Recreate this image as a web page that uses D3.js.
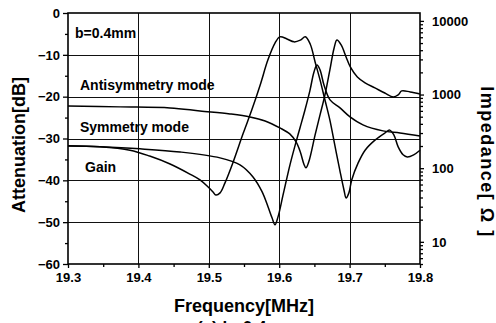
<!DOCTYPE html>
<html>
<head>
<meta charset="utf-8">
<script src="https://cdn.jsdelivr.net/npm/d3@7"></script>
<style>
  body { margin: 0; background: #fff; }
  svg { display: block; }
  text { font-family: "Liberation Sans", Arial, sans-serif; font-weight: bold; fill: #000; }
</style>
</head>
<body>
<svg id="chart" width="496" height="323"></svg>
<script>
// Axis tick values
const freqTicks = [19.3, 19.4, 19.5, 19.6, 19.7, 19.8];
const freqMinor = [19.35, 19.45, 19.55, 19.65, 19.75];
const dbTicks = [0, -10, -20, -30, -40, -50, -60];
const dbMinor = [-5, -15, -25, -35, -45, -55];
const ohmTicks = [10, 100, 1000, 10000];

// Filter gain [dB] vs frequency [MHz]
const gainFreq = [19.300, 19.345, 19.388, 19.416, 19.445, 19.473, 19.4875, 19.499, 19.506, 19.510,
  19.516, 19.523, 19.534, 19.549, 19.561, 19.573, 19.584, 19.594, 19.601, 19.611,
  19.621, 19.630, 19.637, 19.644, 19.651, 19.658, 19.665, 19.672, 19.679, 19.686,
  19.692, 19.695, 19.699, 19.703, 19.712, 19.722, 19.736, 19.750, 19.757, 19.763,
  19.769, 19.776, 19.782, 19.791, 19.800];
const gainDb = [-31.8, -32.0, -32.8, -34.2, -36.1, -38.5, -39.9, -41.6, -42.8, -43.5,
  -43.0, -40.6, -35.9, -28.7, -23.2, -17.2, -11.2, -7.2, -5.7, -6.2,
  -6.9, -6.5, -5.7, -7.4, -11.7, -16.0, -20.8, -25.6, -31.6, -37.5,
  -42.3, -44.2, -43.0, -39.9, -35.9, -32.8, -30.4, -28.7, -28.0, -29.2,
  -32.0, -33.9, -34.4, -33.9, -32.8];

// Antisymmetry mode impedance [ohm]
const antiFreq = [19.300, 19.374, 19.445, 19.4875, 19.530, 19.5585, 19.580, 19.601, 19.615, 19.624,
  19.630, 19.635, 19.638, 19.642, 19.651, 19.658, 19.665, 19.672, 19.678, 19.682,
  19.688, 19.695, 19.701, 19.711, 19.722, 19.736, 19.750, 19.762, 19.769, 19.774,
  19.786, 19.800];
const antiOhm = [700, 680, 658, 598, 545, 497, 438, 352, 292, 227,
  166, 114, 101, 122, 283, 529, 988, 2160, 4290, 5500,
  4710, 3240, 2370, 1730, 1440, 1230, 1050, 928, 988, 1120,
  1085, 1020];

// Symmetry mode impedance [ohm]
const symFreq = [19.300, 19.3455, 19.4023, 19.4591, 19.5159, 19.5443, 19.5628, 19.5756, 19.5841, 19.5898,
  19.5940, 19.5983, 19.6054, 19.6153, 19.6224, 19.6295, 19.6366, 19.6438, 19.6494, 19.6537,
  19.6580, 19.6636, 19.6722, 19.6864, 19.7006, 19.7190, 19.7474, 19.7716, 19.800];
const symOhm = [201, 195, 183, 166, 138, 111, 76, 48, 30, 21.2,
  17, 21.8, 43, 111, 201, 352, 618, 1150, 2030, 2520,
  2160, 1350, 845, 658, 497, 387, 321, 301, 274];

const svg = d3.select("#chart");
const L = 68, R = 420, T = 13, B = 264;

const x = d3.scaleLinear().domain([19.3, 19.8]).range([L, R]);
const yDb = d3.scaleLinear().domain([-60, 0]).range([B, T]);
const yOhm = d3.scaleLog().domain([5, 12800]).range([B, T]);

// Grid
const grid = svg.append("g").attr("stroke", "#111").attr("stroke-width", 1);
grid.selectAll("line.h").data(dbTicks.slice(1, -1)).join("line")
  .attr("x1", L).attr("x2", R)
  .attr("y1", d => Math.round(yDb(d)) + 0.5).attr("y2", d => Math.round(yDb(d)) + 0.5);
grid.selectAll("line.v").data(freqTicks.slice(1, -1)).join("line")
  .attr("y1", T).attr("y2", B)
  .attr("x1", d => Math.round(x(d)) + 0.5).attr("x2", d => Math.round(x(d)) + 0.5);

// Frame
svg.append("rect").attr("x", L).attr("y", T).attr("width", R - L).attr("height", B - T)
  .attr("fill", "none").attr("stroke", "#000").attr("stroke-width", 1.6);

function styleAxis(g) {
  g.select(".domain").remove();
  g.selectAll("line").attr("stroke", "#000").attr("stroke-width", 1.3);
  g.selectAll("text").attr("font-size", 13).attr("font-family", '"Liberation Sans", Arial, sans-serif').attr("font-weight", "bold");
}

// Left axis
svg.append("g").attr("transform", `translate(${L},0)`)
  .call(d3.axisLeft(yDb).tickValues(dbTicks).tickSize(5).tickPadding(3).tickFormat(d3.format("d")))
  .call(styleAxis);
svg.append("g").attr("transform", `translate(${L},0)`)
  .call(d3.axisLeft(yDb).tickValues(dbMinor).tickSize(3).tickFormat(""))
  .call(styleAxis);

// Bottom axis
svg.append("g").attr("transform", `translate(0,${B})`)
  .call(d3.axisBottom(x).tickValues(freqTicks).tickSize(4).tickPadding(5).tickFormat(d3.format(".1f")))
  .call(styleAxis);
svg.append("g").attr("transform", `translate(0,${B})`)
  .call(d3.axisBottom(x).tickValues(freqMinor).tickSize(3).tickFormat(""))
  .call(styleAxis);

// Right axis (log)
svg.append("g").attr("transform", `translate(${R},0)`)
  .call(d3.axisRight(yOhm).tickValues(ohmTicks).tickSize(4).tickPadding(8).tickFormat(d3.format("d")))
  .call(styleAxis);
svg.append("g").attr("transform", `translate(${R},0)`)
  .call(d3.axisRight(yOhm).tickValues(yOhm.ticks().filter(v => !ohmTicks.includes(v))).tickSize(3).tickFormat(""))
  .call(styleAxis);

// Curves
const curve = d3.curveCatmullRom.alpha(0.5);
const lineDb = d3.line().x(d => x(d[0])).y(d => yDb(d[1])).curve(curve);
const lineOhm = d3.line().x(d => x(d[0])).y(d => yOhm(d[1])).curve(curve);
const plot = svg.append("g").attr("fill", "none").attr("stroke", "#000").attr("stroke-width", 1.5);
plot.append("path").attr("d", lineOhm(d3.zip(antiFreq, antiOhm)));
plot.append("path").attr("d", lineOhm(d3.zip(symFreq, symOhm)));
plot.append("path").attr("d", lineDb(d3.zip(gainFreq, gainDb)));

// Annotations
const note = (t, px, py, size) => svg.append("text").attr("x", px).attr("y", py).attr("font-size", size).text(t);
note("b=0.4mm", 75, 38, 14);
note("Antisymmetry mode", 80, 90, 14);
note("Symmetry mode", 80, 132, 14);
note("Gain", 85, 172, 14);

// Axis titles
svg.append("text").attr("x", 244).attr("y", 312).attr("text-anchor", "middle").attr("font-size", 18)
  .text("Frequency[MHz]");
svg.append("text").attr("transform", "translate(25,145) rotate(-90)").attr("text-anchor", "middle")
  .attr("font-size", 18).text("Attenuation[dB]");
svg.append("text").attr("transform", "translate(481,162) rotate(90)").attr("text-anchor", "middle")
  .attr("font-size", 18).attr("letter-spacing", 1.5).text("Impedance[ Ω ]");
svg.append("text").attr("x", 197).attr("y", 333).attr("font-size", 17).text("(a)  b=0.4mm");
</script>
</body>
</html>
